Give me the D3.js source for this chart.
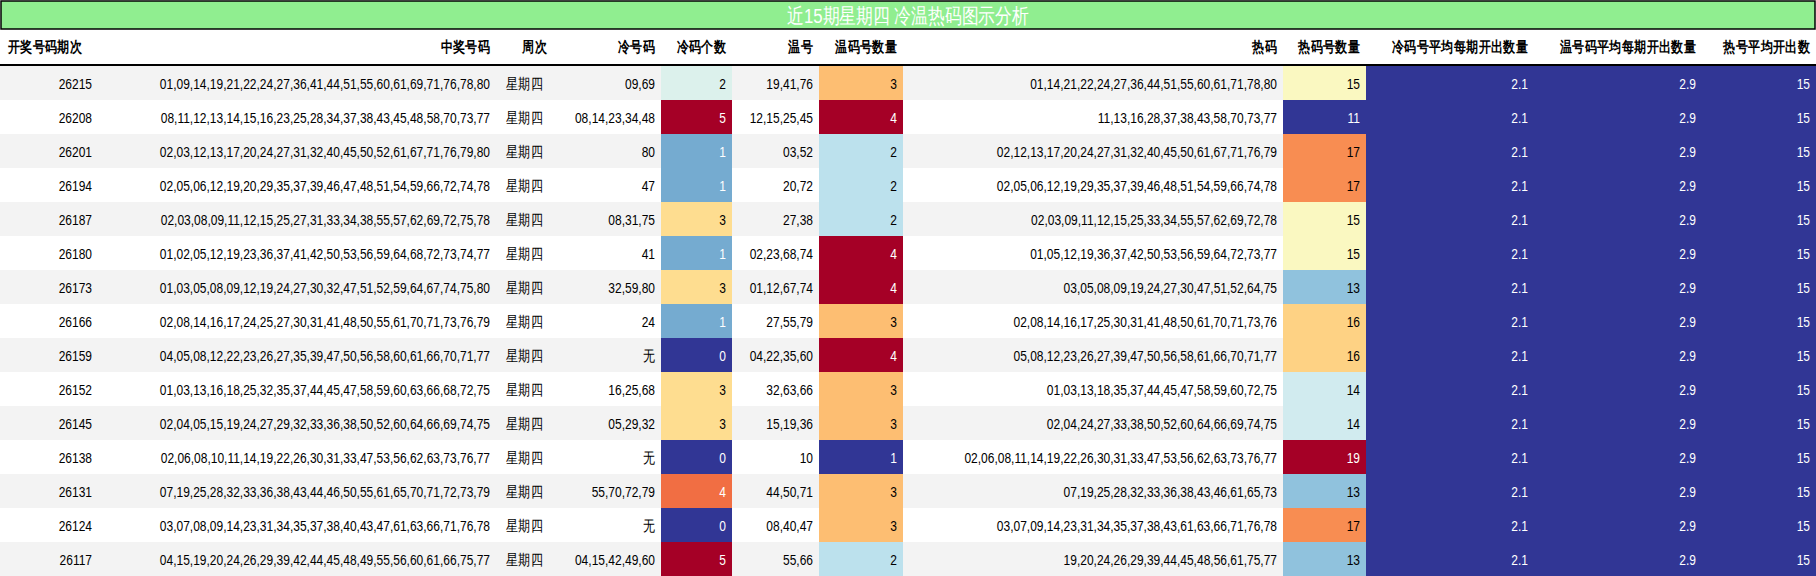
<!DOCTYPE html>
<html><head><meta charset="utf-8">
<script src="https://cdn.jsdelivr.net/npm/d3@7"></script>
<style>body{margin:0;background:#fff}svg{display:block}</style>
</head><body><svg id="c" width="1816" height="576"></svg>
<script>
const title = "近15期星期四 冷温热码图示分析";
const headers = ["开奖号码期次","中奖号码","周次","冷号码","冷码个数","温号","温码号数量","热码","热码号数量","冷码号平均每期开出数量","温号码平均每期开出数量","热号平均开出数"];
const periods = ["26215","26208","26201","26194","26187","26180","26173","26166","26159","26152","26145","26138","26131","26124","26117"];
const winning = [
"01,09,14,19,21,22,24,27,36,41,44,51,55,60,61,69,71,76,78,80",
"08,11,12,13,14,15,16,23,25,28,34,37,38,43,45,48,58,70,73,77",
"02,03,12,13,17,20,24,27,31,32,40,45,50,52,61,67,71,76,79,80",
"02,05,06,12,19,20,29,35,37,39,46,47,48,51,54,59,66,72,74,78",
"02,03,08,09,11,12,15,25,27,31,33,34,38,55,57,62,69,72,75,78",
"01,02,05,12,19,23,36,37,41,42,50,53,56,59,64,68,72,73,74,77",
"01,03,05,08,09,12,19,24,27,30,32,47,51,52,59,64,67,74,75,80",
"02,08,14,16,17,24,25,27,30,31,41,48,50,55,61,70,71,73,76,79",
"04,05,08,12,22,23,26,27,35,39,47,50,56,58,60,61,66,70,71,77",
"01,03,13,16,18,25,32,35,37,44,45,47,58,59,60,63,66,68,72,75",
"02,04,05,15,19,24,27,29,32,33,36,38,50,52,60,64,66,69,74,75",
"02,06,08,10,11,14,19,22,26,30,31,33,47,53,56,62,63,73,76,77",
"07,19,25,28,32,33,36,38,43,44,46,50,55,61,65,70,71,72,73,79",
"03,07,08,09,14,23,31,34,35,37,38,40,43,47,61,63,66,71,76,78",
"04,15,19,20,24,26,29,39,42,44,45,48,49,55,56,60,61,66,75,77"];
const weekday = "星期四";
const coldNums = ["09,69","08,14,23,34,48","80","47","08,31,75","41","32,59,80","24","无","16,25,68","05,29,32","无","55,70,72,79","无","04,15,42,49,60"];
const coldCount = [2,5,1,1,3,1,3,1,0,3,3,0,4,0,5];
const warmNums = ["19,41,76","12,15,25,45","03,52","20,72","27,38","02,23,68,74","01,12,67,74","27,55,79","04,22,35,60","32,63,66","15,19,36","10","44,50,71","08,40,47","55,66"];
const warmCount = [3,4,2,2,2,4,4,3,4,3,3,1,3,3,2];
const hotNums = [
"01,14,21,22,24,27,36,44,51,55,60,61,71,78,80",
"11,13,16,28,37,38,43,58,70,73,77",
"02,12,13,17,20,24,27,31,32,40,45,50,61,67,71,76,79",
"02,05,06,12,19,29,35,37,39,46,48,51,54,59,66,74,78",
"02,03,09,11,12,15,25,33,34,55,57,62,69,72,78",
"01,05,12,19,36,37,42,50,53,56,59,64,72,73,77",
"03,05,08,09,19,24,27,30,47,51,52,64,75",
"02,08,14,16,17,25,30,31,41,48,50,61,70,71,73,76",
"05,08,12,23,26,27,39,47,50,56,58,61,66,70,71,77",
"01,03,13,18,35,37,44,45,47,58,59,60,72,75",
"02,04,24,27,33,38,50,52,60,64,66,69,74,75",
"02,06,08,11,14,19,22,26,30,31,33,47,53,56,62,63,73,76,77",
"07,19,25,28,32,33,36,38,43,46,61,65,73",
"03,07,09,14,23,31,34,35,37,38,43,61,63,66,71,76,78",
"19,20,24,26,29,39,44,45,48,56,61,75,77"];
const hotCount = [15,11,17,17,15,15,13,16,16,14,14,19,13,17,13];
const avgCold = Array(15).fill(2.1);
const avgWarm = Array(15).fill(2.9);
const avgHot = Array(15).fill(15);

const colEdges = [0,98,496,553,661,732,819,903,1283,1366,1534,1702,1816];
const columns = [periods,winning,Array(15).fill(weekday),coldNums,coldCount,warmNums,warmCount,hotNums,hotCount,avgCold,avgWarm,avgHot];
const heatCols = {4:coldCount,6:warmCount,8:hotCount,9:avgCold,10:avgWarm,11:avgHot};

const svg = d3.select("#c");
const font = "'Liberation Sans Narrow','Liberation Sans',sans-serif";
const SX = 0.8;
const titleH = 29, headH = 36, rowTop = 66;
const y = d3.scaleBand().domain(d3.range(15)).range([rowTop, 576]);

function txt(x, yy, s, anchor){
  return svg.append("text").attr("transform",`translate(${x},${yy}) scale(${SX},1)`)
    .attr("dominant-baseline","central").attr("text-anchor",anchor)
    .attr("font-family",font).attr("font-size",15).text(s);
}

svg.append("rect").attr("x",1).attr("y",1).attr("width",1814).attr("height",titleH-1)
  .attr("fill","#90ee90").attr("stroke","#000").attr("stroke-width",1.5);
txt(908, titleH/2+1, title, "middle").attr("fill","#fff").attr("font-size",21);

headers.forEach((h,i)=>{
  const left = i===0;
  txt(left? colEdges[i]+8 : colEdges[i+1]-6, titleH+headH/2, h, left?"start":"end")
    .attr("font-weight","bold").attr("fill","#000");
});
svg.append("line").attr("x1",0).attr("x2",1816).attr("y1",rowTop-1).attr("y2",rowTop-1).attr("stroke","#000").attr("stroke-width",2);

d3.range(15).forEach(r=>{
  svg.append("rect").attr("x",0).attr("y",y(r)).attr("width",1816).attr("height",y.bandwidth())
    .attr("fill", r%2===0 ? "#f3f3f3" : "#fff");
});

function colorFor(vals, v){
  const [lo,hi] = d3.extent(vals);
  const t = hi===lo ? 0 : (v-lo)/(hi-lo);
  return d3.interpolateRdYlBu(1 - t);
}
columns.forEach((vals,c)=>{
  const x0 = colEdges[c], x1 = colEdges[c+1];
  vals.forEach((v,r)=>{
    let fill = "#000";
    if (heatCols[c]) {
      const col = colorFor(heatCols[c], v);
      svg.append("rect").attr("x",x0).attr("y",y(r)).attr("width",x1-x0).attr("height",y.bandwidth()).attr("fill",col);
      const lab = d3.lab(col);
      fill = (lab.l < 55 || lab.a > 40 || (lab.l < 72 && lab.b < -5)) ? "#fff" : "#000";
    }
  });
});
columns.forEach((vals,c)=>{
  const x0 = colEdges[c], x1 = colEdges[c+1];
  vals.forEach((v,r)=>{
    let fill = "#000";
    if (heatCols[c]) {
      const lab = d3.lab(colorFor(heatCols[c], v));
      fill = (lab.l < 55 || lab.a > 40 || (lab.l < 72 && lab.b < -5)) ? "#fff" : "#000";
    }
    txt(c===2 ? (x0+x1)/2 : x1-6, y(r)+y.bandwidth()/2+1, v, c===2?"middle":"end").attr("fill",fill);
  });
});
</script></body></html>
